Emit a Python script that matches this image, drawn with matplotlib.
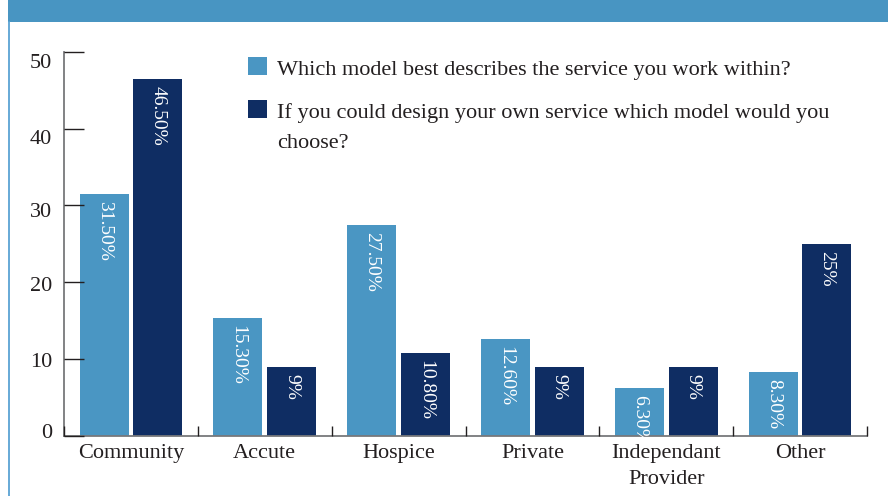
import matplotlib
matplotlib.use("Agg")
import matplotlib.pyplot as plt
from matplotlib.patches import Rectangle
from matplotlib.lines import Line2D
from matplotlib.transforms import ScaledTranslation
import numpy as np

categories = ["Community", "Accute", "Hospice", "Private", "Independant\nProvider", "Other"]
current_model = [31.5, 15.3, 27.5, 12.6, 6.3, 8.3]
preferred_model = [46.5, 9, 10.8, 9, 9, 25]
series_names = [
    "Which model best describes the service you work within?",
    "If you could design your own service which model would you",
    "choose?",
]
y_ticks = [0, 10, 20, 30, 40, 50]
# vertical nudge (pixels, downward) of each y tick label
y_label_shift = [-5.5, 0.5, 1.5, 4.5, 8.5, 9.5]

LIGHT = "#4A96C3"
DARK = "#0F2D63"
TEXT = "#231F20"
BAND = "#4895C2"

plt.rcParams["font.family"] = ["Liberation Serif", "DejaVu Serif"]

W, H = 888, 496
fig = plt.figure(figsize=(W / 100, H / 100), dpi=100)
fig.patch.set_facecolor("white")


def fx(px):
    return px / W


def fy(py):
    return 1 - py / H


# header band and left frame line
fig.patches.append(Rectangle((fx(8), fy(22)), 1 - fx(8), 22 / H,
                             transform=fig.transFigure, facecolor=BAND,
                             edgecolor="none", zorder=0))
fig.lines.append(Line2D([fx(8.5), fx(8.5)], [0, fy(22)], transform=fig.transFigure,
                        color="#5AA3D3", lw=1.3))

ax = fig.add_axes([fx(64), fy(436), fx(867) - fx(64), (436 - 51.7) / H])

x = np.arange(len(categories))
off = 0.2
bw = 0.366
b1 = ax.bar(x - off, current_model, width=bw, color=LIGHT, zorder=2)
b2 = ax.bar(x + off, preferred_model, width=bw, color=DARK, zorder=2)


def fmt(v):
    return f"{v:.0f}%" if float(v).is_integer() else f"{v:.2f}%"


for bars, vals in ((b1, current_model), (b2, preferred_model)):
    for rect, v in zip(bars, vals):
        ax.annotate(fmt(v), (rect.get_x() + rect.get_width() / 2, v),
                    xytext=(0, -5), textcoords="offset points",
                    rotation=-90, ha="center", va="top",
                    color="white", fontsize=14, zorder=4)

ax.set_xlim(-0.5, len(categories) - 0.5)
ax.set_ylim(0, 50)
ax.set_yticks(y_ticks, [str(t) for t in y_ticks])
ax.set_xticks(x)
ax.set_xticklabels(categories, fontsize=16, color=TEXT, linespacing=1.45)
ax.set_xticks(np.arange(-0.5, len(categories), 1.0), minor=True)

ax.tick_params(axis="y", direction="in", length=14.5, width=1.0, color=TEXT,
               labelsize=16, labelcolor=TEXT, pad=8.5)
ax.tick_params(axis="x", which="major", length=0, pad=6)
ax.tick_params(axis="x", which="minor", direction="in", length=7.5, width=1.0,
               color=TEXT)
for t in ax.yaxis.get_major_ticks():
    t.tick1line.set_zorder(5)
ax.set_axisbelow(False)

for lab, dy in zip(ax.get_yticklabels(), y_label_shift):
    lab.set_transform(lab.get_transform() +
                      ScaledTranslation(0, -dy / 100, fig.dpi_scale_trans))

for s in ("top", "right"):
    ax.spines[s].set_visible(False)
for s in ("left", "bottom"):
    ax.spines[s].set_color("#77787B")
    ax.spines[s].set_linewidth(1.3)

# legend
fig.patches.append(Rectangle((fx(248), fy(75)), 19 / W, 18 / H,
                             transform=fig.transFigure, facecolor=LIGHT,
                             edgecolor="none"))
fig.patches.append(Rectangle((fx(248), fy(118)), 19 / W, 18 / H,
                             transform=fig.transFigure, facecolor=DARK,
                             edgecolor="none"))
fig.text(fx(277), fy(75), series_names[0], fontsize=16, color=TEXT,
         ha="left", va="baseline")
fig.text(fx(277), fy(118), series_names[1], fontsize=16, color=TEXT,
         ha="left", va="baseline")
fig.text(fx(277), fy(148), series_names[2], fontsize=16, color=TEXT,
         ha="left", va="baseline")

fig.savefig("out.png", dpi=100)
